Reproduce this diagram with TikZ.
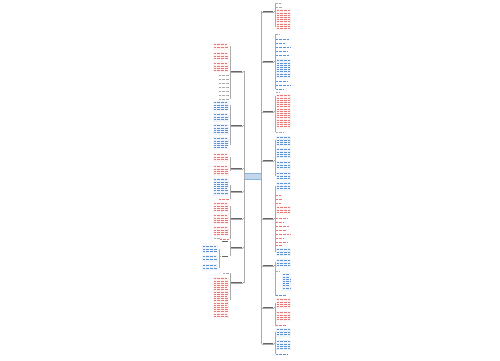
\documentclass[tikz,border=0pt]{standalone}
\usetikzlibrary{positioning}
\definecolor{redtxt}{RGB}{232,120,120}
\definecolor{bluetxt}{RGB}{90,146,212}
\definecolor{linkgray}{RGB}{170,170,170}
\definecolor{topicfill}{RGB}{196,214,236}

% block of wrapped leaf text: x1, y1, x2, y2, colour
\newcommand\leafbox[5]{%
  \fill[#5!8] (#1,#2) rectangle (#3,#4);
  \pgfmathtruncatemacro\nlines{max(1,floor((#4-#2-0.6)/2.2))}
  \foreach \i in {1,...,\nlines}
    \draw[#5, line width=0.6pt, dash pattern=on 1pt off 0.35pt]
      (#1+0.8,#2+\i*2.2-0.5) -- ({#3-0.8-mod(\i*3,4)*0.4},#2+\i*2.2-0.5);
}
% one short leaf line: x1, y, x2, colour
\newcommand\leafline[4]{%
  \draw[#4, line width=0.6pt, dash pattern=on 1pt off 0.35pt] (#1,#2) -- (#3,#2);
}

\begin{document}
\begin{tikzpicture}[x=1pt,y=-1pt,
  topic/.style={draw=bluetxt!70, fill=topicfill, minimum width=17pt, minimum height=6pt, inner sep=0pt},
  branch/.style={minimum width=12pt, minimum height=3pt, inner sep=0pt,
    path picture={\fill[black!60] ([xshift=0.6pt,yshift=-0.5pt]path picture bounding box.west) rectangle ([xshift=-0.6pt,yshift=0.5pt]path picture bounding box.east);}},
  link/.style={draw=linkgray, line width=0.45pt}]

  \useasboundingbox (0,0) rectangle (500,360);

  \node[topic] (root) at (252.5,176.5) {};

  % right side
  \foreach \n/\yy/\top/\bot in {r1/11/3/27, r2/61/34/89, r3/111/96/132, r4/160/140/176,
      r5/218/186/252, r6/265/262/296, r7/307/303/326, r8/343/332/354} {
    \node[branch] (\n) at (268,\yy) {};
    \draw[link] (root.east) |- (\n.west);
    \draw[link] (\n.east) -- (275,\yy) coordinate (\n k);
    \draw[link] (275,\top) -- (275,\bot);
    \draw[link] (\n.south west) -- (\n.south east);
  }

  % left side
  \foreach \n/\yy/\top/\bot in {l1/71/46/99, l2/125/105/145, l3/168/157/171, l4/191/185/199,
      l5/218/206/239, l6/247/241/256, l7/282/273/300} {
    \node[branch] (\n) at (236.5,\yy) {};
    \draw[link] (root.west) |- (\n.east);
    \draw[link] (\n.west) -- (230,\yy) coordinate (\n k);
    \draw[link] (230,\top) -- (230,\bot);
    \draw[link] (\n.south west) -- (\n.south east);
  }

  % leaves of the right branches
  \leafline{276}{3}{281}{linkgray}
  \leafline{276}{7}{282}{linkgray}
  \leafbox{276}{9}{291}{30}{redtxt}

  \leafline{276}{34}{280}{linkgray}
  \foreach \yy/\xe in {39/289, 43/285, 47/290, 51/287, 55/289}
    {\leafline{276}{\yy}{\xe}{bluetxt}}
  \leafbox{276}{59}{291}{78}{bluetxt}
  \foreach \yy/\xe in {81/288, 85/290, 89/284}
    {\leafline{276}{\yy}{\xe}{bluetxt}}

  \leafline{276}{92}{280}{linkgray}
  \leafbox{276}{94}{291}{129}{redtxt}
  \leafline{276}{132}{283}{linkgray}

  \leafbox{276}{136}{291}{146}{bluetxt}
  \leafbox{276}{148}{291}{158}{bluetxt}
  \leafbox{276}{161}{291}{170}{bluetxt}
  \leafbox{276}{172}{291}{180}{bluetxt}

  \leafbox{276}{182}{291}{191}{bluetxt}
  \foreach \yy/\xe in {195/281, 199/282, 203/281}
    {\leafline{276}{\yy}{\xe}{redtxt}}
  \leafbox{276}{206}{291}{214}{redtxt}
  \foreach \yy/\xe in {218/288, 222/283, 226/289, 230/286, 234/290, 238/284, 242/287, 245/282}
    {\leafline{276}{\yy}{\xe}{redtxt}}
  \leafbox{276}{248}{291}{256}{bluetxt}

  \leafbox{276}{259}{291}{267}{bluetxt}
  \leafline{276}{271}{280}{linkgray}
  \leafbox{282}{273}{291}{291}{bluetxt}
  \leafline{276}{295}{286}{bluetxt}

  \leafbox{276}{298}{291}{309}{redtxt}
  \leafbox{276}{311}{291}{321}{redtxt}
  \leafline{276}{325}{286}{redtxt}

  \leafbox{276}{328}{291}{337}{bluetxt}
  \leafbox{276}{340}{291}{350}{bluetxt}
  \leafline{276}{354}{287}{bluetxt}

  % leaves of the left branches
  \leafbox{213}{43}{229}{50}{redtxt}
  \leafbox{213}{52}{229}{60}{redtxt}
  \leafbox{213}{62}{229}{72}{redtxt}
  \foreach \yy in {75,79,...,99}
    {\leafline{219}{\yy}{229}{linkgray}}

  \leafbox{213}{101}{229}{111}{bluetxt}
  \leafbox{213}{113}{229}{122}{bluetxt}
  \leafbox{213}{124}{229}{135}{bluetxt}
  \leafbox{213}{137}{229}{149}{bluetxt}

  \leafbox{213}{153}{229}{162}{redtxt}
  \leafbox{213}{165}{229}{176}{redtxt}

  \leafbox{213}{178}{229}{196}{bluetxt}
  \leafline{219}{199}{229}{redtxt}

  \leafbox{213}{202}{229}{212}{redtxt}
  \leafbox{213}{214}{229}{224}{redtxt}
  \leafbox{213}{226}{229}{236}{redtxt}
  \leafline{220}{239}{229}{redtxt}

  \node[branch, minimum width=7pt] (l6a) at (225,241) {};
  \node[branch, minimum width=7pt] (l6b) at (225,256) {};
  \leafline{214}{238}{220}{linkgray}
  \leafbox{202}{245}{218}{253}{bluetxt}
  \leafbox{202}{255}{218}{262}{bluetxt}
  \leafbox{202}{264}{218}{271}{bluetxt}
  \draw[link] (l6b.west) -- (219.5,256) coordinate (l6c);
  \draw[link] (219.5,249) -- (219.5,268);

  \leafline{223}{273}{229}{linkgray}
  \leafbox{213}{277}{229}{318}{redtxt}
\end{tikzpicture}
\end{document}
